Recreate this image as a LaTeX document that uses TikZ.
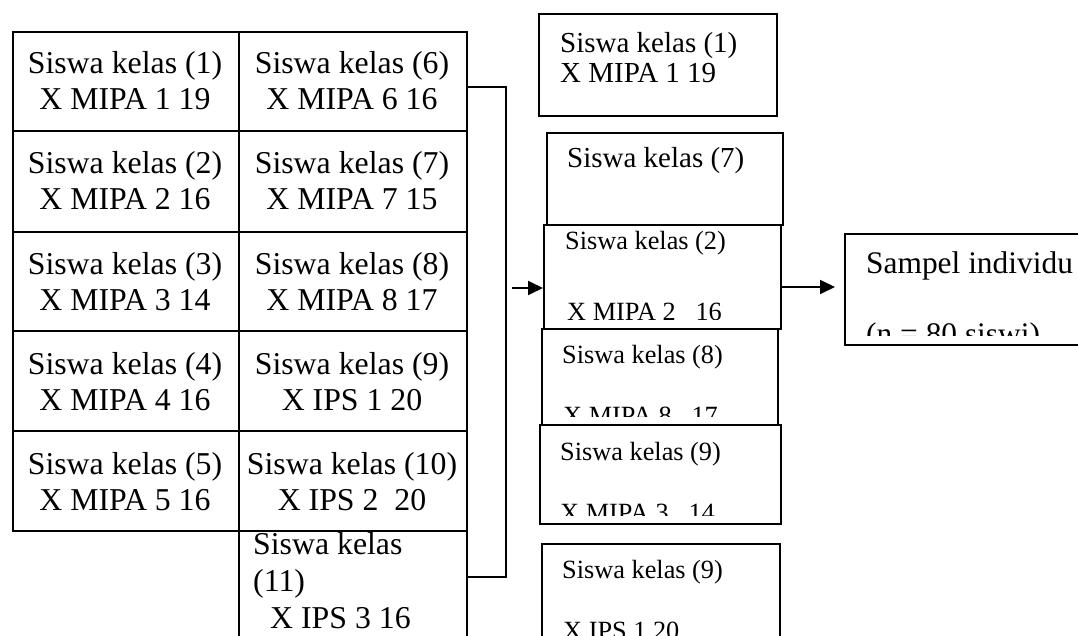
\documentclass[tikz,border=0pt]{standalone}
\usepackage{fontspec}
\setmainfont{Liberation Serif}
\usetikzlibrary{arrows.meta}

\newcommand\fbig{\fontsize{31.8}{36}\selectfont}
\newcommand\fmid{\fontsize{29}{30}\selectfont}
\newcommand\fsmall{\fontsize{26.3}{30}\selectfont}
\newcommand\fsamp{\fontsize{31.4}{36}\selectfont}

\tikzset{
  box/.style={draw, line width=1.8pt, inner sep=0pt, anchor=north west},
  cellL/.style={box, minimum width=226pt},
  cellR/.style={box, minimum width=228pt},
  lbl/.style={inner sep=0pt, anchor=base},
  lblw/.style={inner sep=0pt, anchor=base west},
  wire/.style={line width=1.8pt},
  arr/.style={line width=1.8pt, -{Triangle[length=15pt,width=14pt]}}
}

\begin{document}
\begin{tikzpicture}[x=1pt,y=-1pt]
\clip (0,0) rectangle (1078,636);
\fill[white] (0,0) rectangle (1078,636);

% population table, left column
\node[cellL, minimum height=99pt]  (c1) at (12,31)  {};
\node[cellL, minimum height=101pt] (c2) at (12,130) {};
\node[cellL, minimum height=99pt]  (c3) at (12,231) {};
\node[cellL, minimum height=100pt] (c4) at (12,330) {};
\node[cellL, minimum height=100pt] (c5) at (12,430) {};
% population table, right column
\node[cellR, minimum height=99pt]  (c6)  at (238,31)  {};
\node[cellR, minimum height=101pt] (c7)  at (238,130) {};
\node[cellR, minimum height=99pt]  (c8)  at (238,231) {};
\node[cellR, minimum height=100pt] (c9)  at (238,330) {};
\node[cellR, minimum height=100pt] (c10) at (238,430) {};
\node[cellR, minimum height=140pt] (c11) at (238,530) {};

% cell texts
\foreach \a/\b [count=\k] in {Siswa kelas (1)/X MIPA 1 19,
                       Siswa kelas (2)/X MIPA 2 16,
                       Siswa kelas (3)/X MIPA 3 14,
                       Siswa kelas (4)/X MIPA 4 16,
                       Siswa kelas (5)/X MIPA 5 16}{
  \node[lbl, font=\fbig] at (125,{74+100*(\k-1)}) {\a};
  \node[lbl, font=\fbig] at (125,{110+100*(\k-1)}) {\b};
}
\foreach \a/\b [count=\k] in {Siswa kelas (6)/X MIPA 6 16,
                       Siswa kelas (7)/X MIPA 7 15,
                       Siswa kelas (8)/X MIPA 8 17,
                       Siswa kelas (9)/X IPS 1 20,
                       Siswa kelas (10)/X IPS 2\ \ 20}{
  \node[lbl, font=\fbig] at (352,{74+100*(\k-1)}) {\a};
  \node[lbl, font=\fbig] at (352,{110+100*(\k-1)}) {\b};
}
\node[lblw, font=\fbig] (t11a) at (253,554) {Siswa kelas};
\node[lblw, font=\fbig] (t11b) at (253,591) {(11)};
\node[lblw, font=\fbig] (t11c) at (270,628) {X IPS 3 16};

% sampled classes
\node[box, minimum width=238pt, minimum height=102pt] (bA) at (538,13)  {};
\node[box, minimum width=236pt, minimum height=92pt]  (bB) at (546,132) {};
\node[box, minimum width=237pt, minimum height=104pt] (bC) at (543,224) {};
\node[box, minimum width=236pt, minimum height=96pt]  (bD) at (541,328) {};
\node[box, minimum width=241pt, minimum height=99pt]  (bE) at (539,424) {};
\node[box, minimum width=238pt, minimum height=120pt] (bF) at (541,543) {};
% sample
\node[box, minimum width=260pt, minimum height=111pt] (samp) at (844,233) {};

\node[lblw, font=\fmid] at (560,53)  {Siswa kelas (1)};
\node[lblw, font=\fmid] at (560,83)  {X MIPA 1 19};
\node[lblw, font=\fmid] at (567,168) {Siswa kelas (7)};
\node[lblw, font=\fsmall] at (565,250) {Siswa kelas (2)};
\node[lblw, font=\fsmall] at (562,363) {Siswa kelas (8)};
\node[lblw, font=\fsmall] at (560,460) {Siswa kelas (9)};
\node[lblw, font=\fsmall] at (562,578) {Siswa kelas (9)};
\node[lblw, font=\fsamp]  at (866,273) {Sampel individu};

% second lines, cut off by the box margin
\begin{scope}
  \clip (543,224) rectangle (780,319.5);
  \node[lblw, font=\fsmall] at (567,320.5) {X MIPA 2\ \ \ 16};
\end{scope}
\begin{scope}
  \clip (541,328) rectangle (777,416.5);
  \node[lblw, font=\fsmall] at (563,424.5) {X MIPA 8\ \ \ 17};
\end{scope}
\begin{scope}
  \clip (539,424) rectangle (780,515);
  \node[lblw, font=\fsmall] at (560,521.5) {X MIPA 3\ \ \ 14};
\end{scope}
\begin{scope}
  \clip (541,543) rectangle (779,636);
  \node[lblw, font=\fsmall] at (563,639.5) {X IPS 1 20};
\end{scope}
\begin{scope}
  \clip (844,233) rectangle (1078,335);
  \node[lblw, font=\fsamp] at (866,344) {(n = 80 siswi)};
\end{scope}

% bracket joining the table to the sampled classes
\coordinate (bt) at (506,87);
\coordinate (bb) at (506,577);
\draw[wire] (c6.east |- bt) -- (bt) -- (bb) -- (c11.east |- bb);
\coordinate (ain) at (512,288);
\draw[arr] (ain) -- (bC.west |- ain);
\coordinate (aout) at (780,287);
\draw[arr, shorten >=9pt] (aout) -- (samp.west |- aout);
\end{tikzpicture}
\end{document}
